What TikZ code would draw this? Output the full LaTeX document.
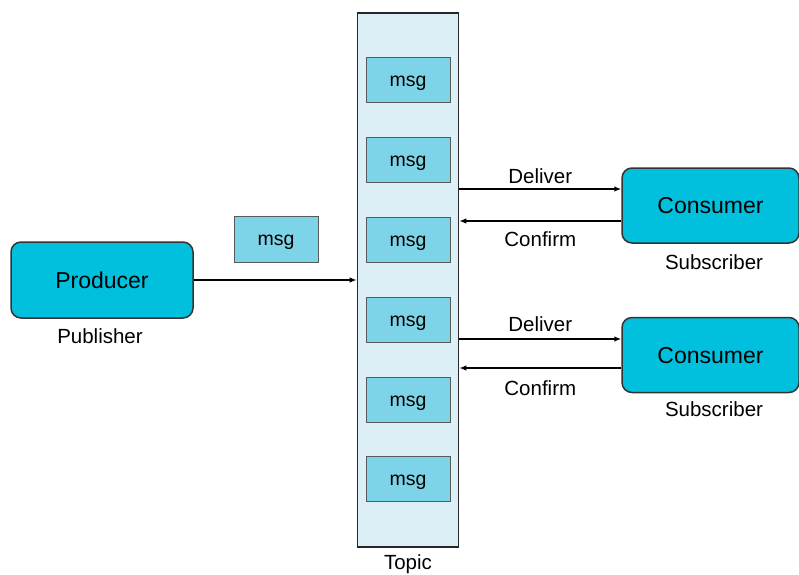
\documentclass[tikz,border=0pt]{standalone}
\usepackage{fontspec}
\setmainfont{Liberation Sans}
\usetikzlibrary{arrows.meta}

\definecolor{roleblue}{HTML}{00C0DE}
\definecolor{msgblue}{HTML}{7DD3E8}
\definecolor{topicblue}{HTML}{DDEFF6}

\begin{document}
\begin{tikzpicture}[x=1pt, y=-1pt,
	role/.style={draw=black!80, line width=1.5pt, fill=roleblue, rounded corners=10pt, minimum width=182pt, minimum height=76pt, inner sep=0pt, text height=16.5pt, text depth=0pt, font=\fontsize{23}{26}\selectfont},
	msgbox/.style={draw=black!65, line width=1pt, fill=msgblue, minimum width=84pt, minimum height=45pt, inner sep=0pt, text height=13pt, text depth=0pt, font=\fontsize{19.5}{22}\selectfont},
	tag/.style={font=\fontsize{20.5}{24}\selectfont, inner sep=0pt, text height=14.7pt, text depth=0pt},
	arr/.style={-{Latex[length=7pt,width=5.5pt]}, line width=1.3pt}]
	\useasboundingbox (0,0) rectangle (799,574);
	\node[draw=black!85, line width=1.6pt, fill=topicblue, minimum width=101pt, minimum height=534pt, inner sep=0pt] (T) at (408, 280) {};
	\node[tag] at (408, 562.5) {Topic};
	\foreach \y [count=\i] in {80,160,240,320,400,479}
		\node[msgbox] (m\i) at (408, \y) {msg};
	\node[role] (P) at (102, 280) {Producer};
	\node[tag] at (100, 336.5) {Publisher};
	\node[msgbox, minimum height=46pt] (F) at (276, 239) {msg};
	\node[role, minimum width=177pt, minimum height=75pt] (C1) at (710.5, 205.5) {Consumer};
	\node[tag] at (714, 262) {Subscriber};
	\node[role, minimum width=177pt, minimum height=75pt] (C2) at (710.5, 355) {Consumer};
	\node[tag] at (714, 409) {Subscriber};
	\coordinate (d1) at ([yshift=16.5pt]C1.west);
	\coordinate (c1) at ([yshift=-15.5pt]C1.west);
	\coordinate (d2) at ([yshift=16pt]C2.west);
	\coordinate (c2) at ([yshift=-13pt]C2.west);
	\draw[arr] (P) -- (T.west |- P);
	\draw[arr] (T.east |- d1) -- (d1) node[tag, midway, yshift=13pt] {Deliver};
	\draw[arr] (c1) -- (T.east |- c1) node[tag, midway, yshift=-18pt] {Confirm};
	\draw[arr] (T.east |- d2) -- (d2) node[tag, midway, yshift=15pt] {Deliver};
	\draw[arr] (c2) -- (T.east |- c2) node[tag, midway, yshift=-20pt] {Confirm};
\end{tikzpicture}
\end{document}
